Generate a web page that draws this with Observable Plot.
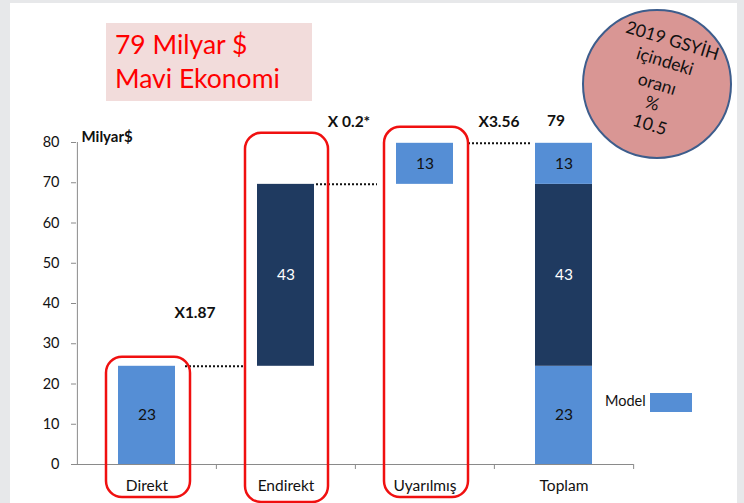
<!DOCTYPE html>
<html>
<head>
<meta charset="utf-8">
<script src="https://cdn.jsdelivr.net/npm/d3@7"></script>
<script src="https://cdn.jsdelivr.net/npm/@observablehq/plot@0.6"></script>
<style>
  html, body { margin: 0; padding: 0; background: #e7e8ea; }
  #panel { position: absolute; left: 10px; top: 3px; width: 727px; height: 500px; background: #ffffff; }
  #chart { position: absolute; left: 0; top: 0; }
</style>
</head>
<body>
<div id="panel"></div>
<div id="chart"></div>
<script>
// ---- data ----
const categories = ["Direkt", "Endirekt", "Uyarılmış", "Toplam"];
const components = ["Direkt", "Endirekt", "Uyarılmış"];
const componentHeights = [24.4, 45.2, 10.2];   // drawn heights, Milyar $
const componentLabels = ["23", "43", "13"];
const multipliers = ["X1.87", "X 0.2*", "X3.56"];
const totalLabel = "79";
const yTicks = [0, 10, 20, 30, 40, 50, 60, 70, 80];
const unitLabel = "Milyar$";
const titleLines = ["79 Milyar $", "Mavi Ekonomi"];
const gdpShareLines = ["2019 GSYİH", "içindeki", "oranı", "%", "10.5"];
const legendLabel = "Model";

// ---- derived rows ----
let cum = 0;
const steps = components.map((c, i) => {
  const y1 = cum; cum += componentHeights[i];
  return {cat: c, comp: c, y1, y2: cum, label: componentLabels[i]};
});
const total = cum;
const rows = steps.concat(steps.map(d => ({...d, cat: categories[3]})));

// ---- layout / style ----
const W = 744, H = 503;
const mL = 76, mR = 111, mT = 142, mB = 39;
const step = (W - mL - mR) / categories.length;
const LIGHT = "#558ed5", DARK = "#1f3a60", AXIS = "#8a8a8a", RED = "#f01010";
const FONT = "Lato, 'Open Sans', sans-serif";
const fillOf = d => d.comp === components[1] ? DARK : LIGHT;
const textOf = d => d.comp === components[1] ? "#ffffff" : "#111111";

const boxStyle = [
  {insetLeft: -12, insetRight: -15, insetTop: -9,  insetBottom: -33},
  {insetLeft: -12, insetRight: -14, insetTop: -51, insetBottom: -38},
  {insetLeft: -12, insetRight: -15, insetTop: -16, insetBottom: -33}
];
const dotStyle = [
  {insetLeft: 67, insetRight: 68},
  {insetLeft: 59, insetRight: 76},
  {insetLeft: 72, insetRight: 61}
];
const multStyle = [
  {dx: -91, ref: 0, dy: -53},
  {dx: -76, ref: 2, dy: -21},
  {dx: -65, ref: 2, dy: -21}
];

const marks = [];
// baseline + y axis line + category boundary ticks
marks.push(Plot.ruleY([0], {stroke: AXIS}));
marks.push(Plot.ruleX([categories[0]], {dx: -step / 2, y1: 0, y2: 80, stroke: AXIS}));
marks.push(Plot.ruleX(categories.slice(1), {dx: -step / 2, y1: 0, y2: 0, insetBottom: -5, stroke: AXIS}));
marks.push(Plot.ruleX([categories[categories.length - 1]], {dx: step / 2, y1: 0, y2: 0, insetBottom: -5, stroke: AXIS}));

// axes
marks.push(Plot.axisY({ticks: yTicks, tickSize: 5, tickPadding: 12, label: null, stroke: AXIS, fill: "#111", fontSize: 14.5, tickFormat: d => String(d)}));
marks.push(Plot.axisX({tickSize: 0, tickPadding: 15, label: null, fill: "#111", fontSize: 15.5}));

// bars (waterfall + stacked total)
marks.push(Plot.barY(rows, {x: "cat", y1: "y1", y2: "y2", fill: fillOf}));
marks.push(Plot.text(rows, {x: "cat", y: d => (d.y1 + d.y2) / 2, text: "label", fill: textOf, fontSize: 15.5, fontFamily: FONT}));

// dotted connectors
steps.forEach((d, i) => {
  marks.push(Plot.ruleY([d], {x1: () => categories[i], x2: () => categories[i + 1], y: "y2",
    stroke: "#111", strokeWidth: 2, strokeDasharray: "2,2", ...dotStyle[i]}));
});

// red highlight boxes
steps.forEach((d, i) => {
  marks.push(Plot.barY([d], {x: "cat", y1: 0, y2: "y2", fill: "none", stroke: RED, strokeWidth: 2.5, rx: 16, ...boxStyle[i]}));
});

// multiplier annotations
multipliers.forEach((m, i) => {
  const s = multStyle[i];
  marks.push(Plot.text([m], {x: () => categories[i + 1], y: () => steps[s.ref].y2, text: d => d,
    dx: s.dx, dy: s.dy, fontWeight: "bold", fontSize: 15.5, fill: "#111", fontFamily: FONT}));
});
marks.push(Plot.text([totalLabel], {x: () => categories[3], y: () => total, text: d => d,
  dx: -8, dy: -22, fontWeight: "bold", fontSize: 15.5, fill: "#111", fontFamily: FONT}));

// unit label
marks.push(Plot.text([unitLabel], {frameAnchor: "top-left", text: d => d, textAnchor: "start",
  dx: 5, dy: -11, fontWeight: "bold", fontSize: 15, fill: "#111", fontFamily: FONT}));

const svg = Plot.plot({
  width: W, height: H,
  marginLeft: mL, marginRight: mR, marginTop: mT, marginBottom: mB,
  style: {background: "transparent", fontFamily: FONT, fontSize: "14px", color: "#111", overflow: "visible"},
  x: {type: "band", domain: categories, paddingInner: 0.59, paddingOuter: 0.295},
  y: {domain: [0, 80]},
  marks
});
document.getElementById("chart").appendChild(svg);

// ---- decorations: title box, GDP share circle, legend ----
const g = d3.select(svg).append("g").attr("font-family", FONT);
g.append("rect").attr("x", 106).attr("y", 23).attr("width", 206).attr("height", 78).attr("fill", "#f2dcdb");
g.selectAll("text.title").data(titleLines).join("text").attr("class", "title")
  .attr("x", 115).attr("y", (d, i) => 54 + i * 34).attr("text-anchor", "start")
  .attr("fill", "#ff0000").attr("font-size", 26.5).text(d => d);

g.append("circle").attr("cx", 657).attr("cy", 84).attr("r", 74)
  .attr("fill", "#d99694").attr("stroke", "#3d5d8c").attr("stroke-width", 2);
const cg = g.append("g").attr("transform", "translate(672,42) rotate(17)");
const vOff = [0, 22, 46, 66, 87], uOff = [0, -1, -2, -1, 3];
cg.selectAll("text").data(gdpShareLines).join("text")
  .attr("x", (d, i) => uOff[i]).attr("y", (d, i) => vOff[i])
  .attr("text-anchor", "middle").attr("dominant-baseline", "middle")
  .style("font-size", "17.5px").attr("fill", "#111").text(d => d);

g.append("text").attr("x", 605).attr("y", 402).attr("dominant-baseline", "middle").attr("text-anchor", "start")
  .attr("font-size", 14.5).attr("fill", "#111").text(legendLabel);
g.append("rect").attr("x", 650).attr("y", 393).attr("width", 42).attr("height", 19).attr("fill", LIGHT);
</script>
</body>
</html>
